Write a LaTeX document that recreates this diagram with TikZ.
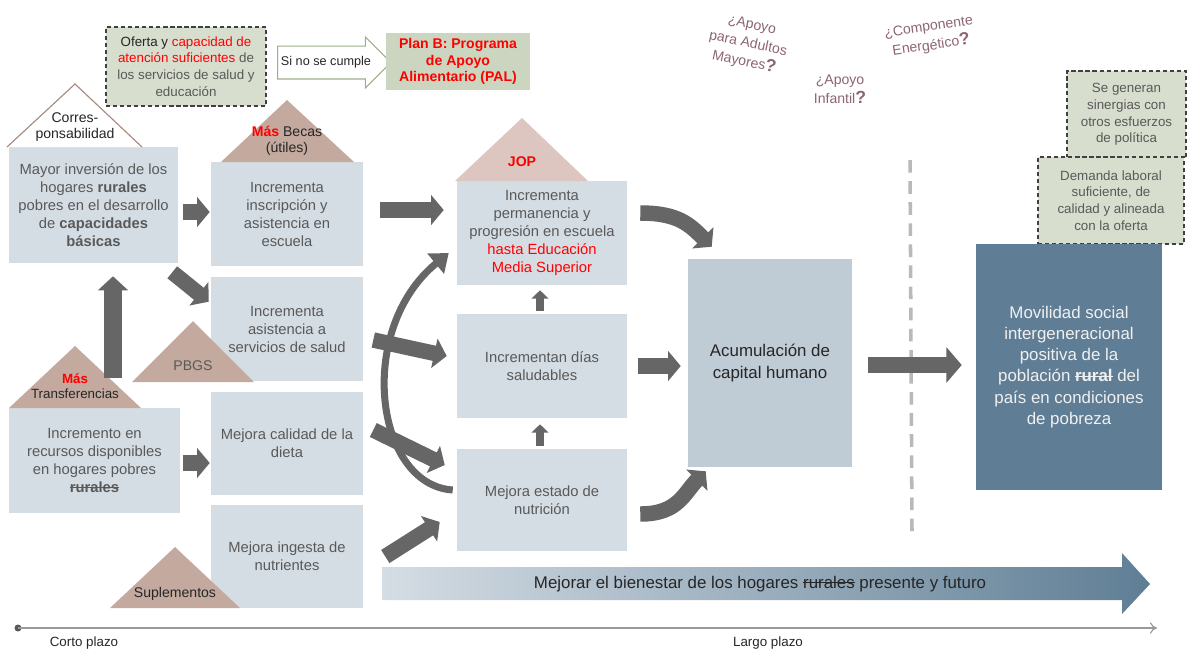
\documentclass[tikz,border=0pt]{standalone}
\usepackage{fontspec}
\setmainfont{Liberation Sans}
\usetikzlibrary{arrows.meta,positioning,calc,shapes.arrows}

\definecolor{boxfill}{HTML}{D5DDE4}
\definecolor{acumfill}{HTML}{BFCBD5}
\definecolor{movilfill}{HTML}{5F7E95}
\definecolor{condfill}{HTML}{D8DECE}
\definecolor{planfill}{HTML}{CCD5BF}
\definecolor{sinoedge}{HTML}{9CAF88}
\definecolor{tribrown}{HTML}{C3A99E}
\definecolor{trilight}{HTML}{DCC6BF}
\definecolor{corresedge}{HTML}{A58A7E}
\definecolor{arrgray}{HTML}{666666}
\definecolor{txtgray}{HTML}{595959}
\definecolor{txtdark}{HTML}{262626}
\definecolor{qcolor}{HTML}{8C6476}
\definecolor{hired}{HTML}{FF0000}

\def\pxu{0.025cm}
\newcommand{\qmark}{{\fontsize{12.5}{13}\selectfont\bfseries ?}}
\newsavebox{\strikebox}
\newcommand{\strikeword}[1]{\sbox{\strikebox}{#1}\rlap{\rule[0.3em]{\wd\strikebox}{0.06em}}\usebox{\strikebox}}

\begin{document}
\begin{tikzpicture}[x=0.025cm,y=-0.025cm,
  box/.style={fill=boxfill, text=txtgray, align=center, inner sep=0pt,
    font=\fontsize{10.5}{12.8}\selectfont},
  boxsize/.style 2 args={minimum width=#1*\pxu, minimum height=#2*\pxu},
  cond/.style={fill=condfill, draw=black!75, line width=0.8pt,
    dash pattern=on 3pt off 2pt, text=txtgray, align=center, inner sep=0pt,
    font=\fontsize{9.5}{11.8}\selectfont},
  trilabel/.style={align=center, text=txtdark, font=\fontsize{10}{11.5}\selectfont},
  barrow/.style={draw=arrgray, line width=11pt, -{Triangle[length=9pt,width=21pt]}},
  bigarrow/.style={draw=arrgray, line width=12pt, -{Triangle[length=11pt,width=25pt]}},
  sarrow/.style={draw=arrgray, line width=6pt, -{Triangle[length=6pt,width=12pt]}},
  question/.style={align=center, text=qcolor, font=\fontsize{10}{13.5}\selectfont}]

  \useasboundingbox (0,0) rectangle (1188,654);

  % conditions and plan B
  \node[cond, boxsize={160}{79}] (oferta) at (186,66.5)
    {\textcolor{txtdark}{Oferta y} \textcolor{hired}{capacidad de}\\
     \textcolor{hired}{atención suficientes} de\\ los servicios de salud y\\ educación};
  \node[single arrow, draw=sinoedge, fill=white, line width=0.8pt,
    minimum height=107*\pxu, minimum width=51*\pxu,
    single arrow head extend=9*\pxu, inner xsep=2pt, inner ysep=7pt,
    font=\fontsize{9}{10}\selectfont, text=txtdark] (sino) at (326,62.5) {Si no se cumple};
  \node[fill=planfill, boxsize={144}{57}, align=center, inner sep=0pt,
    text=hired, font=\fontsize{10}{11.5}\selectfont\bfseries] (planb) at (458,61.5)
    {Plan B: Programa\\ de Apoyo\\ Alimentario (PAL)};

  % open questions
  \node[question, rotate=-12] (qadultos) at (748,44) {¿Apoyo\\ para Adultos\\ Mayores\qmark};
  \node[question] (qinfantil) at (840,89) {¿Apoyo\\ Infantil\qmark};
  \node[question, rotate=8] (qenerg) at (930,37) {¿Componente\\ Energético\qmark};

  % right side conditions
  \node[cond, boxsize={119}{87}] (sinerg) at (1126.5,114.5)
    {\raisebox{-2pt}{\begin{tabular}{@{}c@{}}Se generan\\ sinergias con\\ otros esfuerzos\\ de política\end{tabular}}};
  \node[cond, boxsize={146}{87}] (demanda) at (1111,200.5)
    {Demanda laboral\\ suficiente, de\\ calidad y alineada\\ con la oferta};

  \draw[gray!55, line width=2.5pt, dash pattern=on 9pt off 6pt] (910,160) -- (912,532);

  % left column
  \node[box, boxsize={169}{116}] (mayor) at (93.5,205)
    {Mayor inversión de los\\ hogares \textbf{rurales}\\ pobres en el desarrollo\\
     de \textbf{capacidades}\\ \textbf{básicas}};
  \node[box, boxsize={171}{105}] (recursos) at (94.5,460.5)
    {Incremento en\\ recursos disponibles\\ en hogares pobres\\ \textbf{\strikeword{rurales}}};

  % second column
  \node[box, boxsize={152}{104}] (inscrip) at (287,214) {Incrementa\\ inscripción y\\ asistencia en\\ escuela};
  \node[box, boxsize={152}{104}] (salud) at (287,329) {Incrementa\\ asistencia a\\ servicios de salud};
  \node[box, boxsize={152}{103}] (dieta) at (287,443.5) {Mejora calidad de la\\ dieta};
  \node[box, boxsize={152}{103}] (ingesta) at (287,556.5) {Mejora ingesta de\\ nutrientes};

  % middle column
  \node[box, boxsize={170}{104}] (perman) at (542,233)
    {Incrementa\\ permanencia y\\ progresión en escuela\\
     \textcolor{hired}{hasta Educación}\\ \textcolor{hired}{Media Superior}};
  \node[box, boxsize={170}{104}] (dias) at (542,366) {Incrementan días\\ saludables};
  \node[box, boxsize={170}{102}] (nutri) at (542,500) {Mejora estado de\\ nutrición};

  \node[box, fill=acumfill, text=txtdark, boxsize={164}{208},
    font=\fontsize{12}{15}\selectfont] (acum) at (770,363) {Acumulación de\\ capital humano};
  \node[box, fill=movilfill, text=white!94!black, boxsize={186}{246},
    font=\fontsize{12}{15}\selectfont] (movil) at (1069,367)
    {Movilidad social\\ intergeneracional\\ positiva de la\\
     población \textbf{\strikeword{rural}} del\\ país en condiciones\\ de pobreza};

  % triangles
  \fill[white] (75,84) -- (142,147) -- (7,147) -- cycle;
  \draw[corresedge, line width=0.8pt] (7,147) -- (75,84) -- (142,147);
  \node[trilabel] (tcorres) at (75,127) {Corres-\\ ponsabilidad};
  \fill[tribrown] (287,100) -- (354,162) -- (221,162) -- cycle;
  \node[trilabel] (tbecas) at (287,141) {\textcolor{hired}{\textbf{Más}} Becas\\ (útiles)};
  \fill[trilight] (522,118) -- (588,181) -- (455,181) -- cycle;
  \node[trilabel, text=hired, font=\fontsize{10}{11.5}\selectfont\bfseries] (tjop) at (522,162) {JOP};
  \fill[tribrown] (193,321) -- (254,382) -- (132,382) -- cycle;
  \node[trilabel, text=txtgray] (tpbgs) at (193,366) {PBGS};
  \fill[tribrown] (75,346) -- (141,408) -- (9,408) -- cycle;
  \node[trilabel, font=\fontsize{9.5}{11}\selectfont] (ttransf) at (75,386)
    {\textcolor{hired}{\textbf{Más}}\\ Transferencias};
  \fill[tribrown] (175,547) -- (240,608) -- (110,608) -- cycle;
  \node[trilabel] (tsuple) at (175,594) {Suplementos};

  % causal arrows
  \draw[barrow] ($(mayor.east)+(5,7)$) -- ($(inscrip.west)+(-1,-2)$);
  \draw[barrow] ($(mayor.south east)+(-6,9)$) -- ($(salud.north west)+(-2,25)$);
  \draw[draw=arrgray, line width=12.5pt, -{Triangle[length=10pt,width=21pt]}]
    ($(recursos.north)+(18.5,-30)$) -- ($(mayor.south)+(19.5,13)$);
  \draw[barrow] ($(recursos.east)+(3,2.5)$) -- ($(dieta.west)+(-1,19.5)$);
  \draw[barrow] ($(inscrip.east)+(17,-4)$) -- ($(perman.west)+(-13,-23)$);
  \draw[barrow] ($(salud.east)+(10,11)$) -- ($(dias.west)+(-10,-10)$);
  \draw[barrow] ($(dieta.east)+(10,-13.5)$) -- ($(nutri.west)+(-12,-35)$);
  \draw[barrow] ($(ingesta.east)+(22,0)$) -- ($(nutri.west)+(-17,22)$);
  \draw[sarrow] ($(nutri.north)+(-2,-3)$) -- ($(dias.south)+(-2,6)$);
  \draw[sarrow] ($(dias.north)+(-2,-3)$) -- ($(perman.south)+(-2,5)$);
  \draw[draw=arrgray, line width=5pt, -{Triangle[length=12pt,width=18pt]}]
    ($(nutri.west)+(-4,-10)$) .. controls (375,485) and (355,330) .. ($(perman.west)+(-8,20)$);
  \draw[barrow] ($(perman.east)+(13,-20)$) .. controls +(38,0) and +(-22,-22) .. ($(acum.north west)+(24,-12)$);
  \draw[barrow] ($(dias.east)+(11,0)$) -- ($(acum.west)+(-7,3)$);
  \draw[barrow] ($(nutri.east)+(13,14)$) .. controls +(38,0) and +(-22,22) .. ($(acum.south west)+(18,4)$);
  \draw[bigarrow] ($(acum.east)+(16,2)$) -- ($(movil.west)+(-14,-2)$);

  % long term welfare arrow
  \shade[left color=boxfill, right color=movilfill]
    (382,567) -- (1122,567) -- (1122,553) -- (1150,584) -- (1122,614)
    -- (1122,600) -- (382,600) -- cycle;
  \node[text=txtdark, font=\fontsize{12}{14}\selectfont] (bienestar) at (760,584)
    {Mejorar el bienestar de los hogares \strikeword{rurales} presente y futuro};

  % time line
  \coordinate (tstart) at (18,628);
  \coordinate (tend) at (1157,628);
  \fill[gray!70!black] (tstart) circle (3.5);
  \draw[gray!80, line width=0.8pt, -{To[length=5pt,width=8pt]}] (tstart) -- (tend);
  \node[text=txtdark, font=\fontsize{9.5}{11}\selectfont] (corto) at (84,643) {Corto plazo};
  \node[text=txtdark, font=\fontsize{9.5}{11}\selectfont] (largo) at (768,643) {Largo plazo};
\end{tikzpicture}
\end{document}
